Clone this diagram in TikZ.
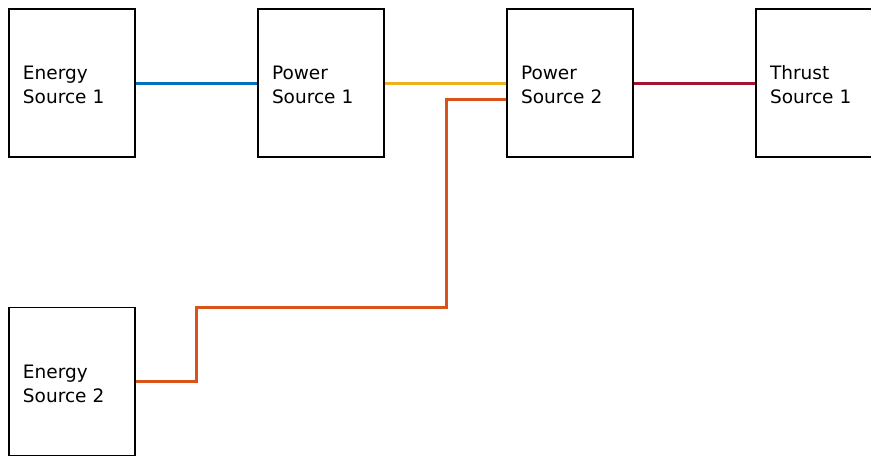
\documentclass[tikz,border=0pt]{standalone}
\usepackage{fontspec}
\setmainfont{DejaVu Sans}
\begin{document}
\begin{tikzpicture}[x=1pt,y=-1pt,
  blk/.style={draw=black,line width=1.8pt,rectangle,minimum width=126pt,minimum height=148pt},
  lbl/.style={text width=98pt,align=left,inner sep=0pt,font=\fontsize{18.5}{24}\selectfont},
  wire/.style={line width=3pt}]
\definecolor{cblue}{HTML}{0072BD}
\definecolor{cyellow}{HTML}{EDB120}
\definecolor{corange}{HTML}{D95319}
\definecolor{cred}{HTML}{A2142F}
\useasboundingbox (0,0) rectangle (871,458);
\begin{scope}
\clip (0,0) rectangle (871,458);
\node[blk] (e1) at (72,83) {};
\node[blk] (p1) at (321,83) {};
\node[blk] (p2) at (570,83) {};
\node[blk] (t1) at (819,83) {};
\node[blk] (e2) at (72,381.5) {};
\node[lbl] (e1t) at ([yshift=-2pt]e1.center) {Energy\\Source 1};
\node[lbl] (p1t) at ([yshift=-2pt]p1.center) {Power\\Source 1};
\node[lbl] (p2t) at ([yshift=-2pt]p2.center) {Power\\Source 2};
\node[lbl] (t1t) at ([yshift=-2pt]t1.center) {Thrust\\Source 1};
\node[lbl] (e2t) at ([yshift=-2pt]e2.center) {Energy\\Source 2};
\coordinate (k1) at (196,381.5);
\coordinate (k2) at (196,307);
\coordinate (k3) at (446,307);
\coordinate (k4) at (446,99);
\draw[wire,cblue] (e1.east) -- (p1.west);
\draw[wire,cyellow] (p1.east) -- (p2.west);
\draw[wire,cred] (p2.east) -- (t1.west);
\draw[wire,corange] (e2.east) -- (k1) -- (k2) -- (k3) -- (k4) -- (k4 -| p2.west);
\end{scope}
\end{tikzpicture}
\end{document}
